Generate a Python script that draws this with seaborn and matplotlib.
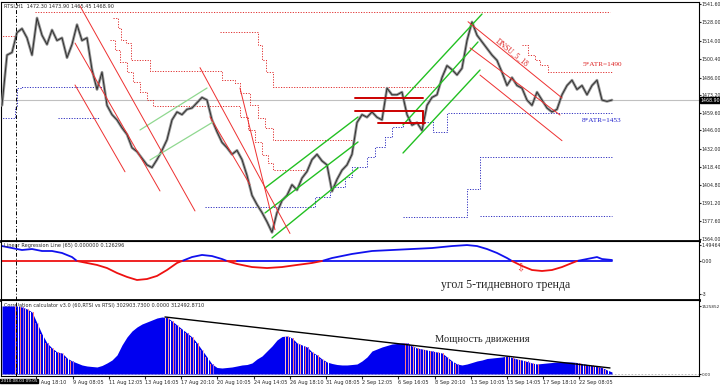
import numpy as np
import pandas as pd
import matplotlib
matplotlib.use("Agg")
import matplotlib.pyplot as plt
import seaborn as sns

sns.set_style("white")
plt.rcParams["font.family"] = ["DejaVu Sans"]

# RTSI H1 closes, sampled along the chart
close = [1465, 1503, 1505, 1520, 1523, 1516, 1503, 1531, 1518, 1511,
         1522, 1514, 1516, 1501, 1511, 1526, 1514, 1516, 1492, 1477,
         1490, 1465, 1458, 1454, 1448, 1443, 1433, 1430, 1425, 1420,
         1418, 1424, 1431, 1439, 1454, 1460, 1458, 1462, 1463, 1467,
         1471, 1469, 1454, 1445, 1437, 1433, 1428, 1431, 1424, 1412,
         1397, 1390, 1384, 1377, 1369, 1384, 1393, 1397, 1405, 1401,
         1410, 1415, 1424, 1428, 1423, 1420, 1400, 1409, 1416, 1420,
         1428, 1452, 1458, 1456, 1460, 1456, 1454, 1478, 1473, 1473,
         1475, 1458, 1450, 1452, 1446, 1465, 1471, 1473, 1486, 1495,
         1492, 1488, 1493, 1514, 1528, 1518, 1513, 1508, 1503, 1499,
         1490, 1480, 1486, 1480, 1478, 1469, 1465, 1475, 1469, 1463,
         1460, 1462, 1473, 1480, 1484, 1477, 1480, 1473, 1480, 1484,
         1469, 1468, 1469]
last_price = 1468.90

price_ticks = [1541.60, 1528.00, 1514.00, 1500.40, 1486.00, 1473.20, 1459.60,
               1446.00, 1432.00, 1418.40, 1404.80, 1391.20, 1377.60, 1364.00]

# ATR step bands (bar, price)
r0_x = [-0.4, 2.8]
r0_p = [1517.4, 1517.4]
r1_x = [6.6, 121.6]
r1_p = [1535.6, 1535.6]
r2_x = [22.2, 23.2, 23.8, 24.8, 25.8, 29.6, 44.0, 46.6, 47.6, 49.6, 51.2, 52.6, 54.2, 70.0]
r2_p = [1531.0, 1523.5, 1514.4, 1512.1, 1499.3, 1491.0, 1484.2, 1481.9, 1474.4,
        1465.3, 1455.5, 1447.9, 1438.8, 1438.8]
r3_x = [43.6, 50.6, 51.2, 52.0, 52.8, 54.2, 87.6]
r3_p = [1520.4, 1520.4, 1510.6, 1499.3, 1490.2, 1478.9, 1478.9]
r4_x = [21.6, 22.6, 23.6, 25.0, 26.2, 27.6, 29.0, 30.2, 47.6, 49.2, 50.6, 52.0, 53.2, 54.2, 61.0]
r4_p = [1514.4, 1506.8, 1497.8, 1490.2, 1482.7, 1475.1, 1469.1, 1464.5, 1456.2,
        1446.4, 1437.3, 1427.5, 1421.5, 1416.2, 1416.2]
r5_x = [104.0, 105.2, 106.6, 107.6, 109.2, 122.0]
r5_p = [1510.6, 1503.1, 1499.3, 1495.5, 1490.2, 1490.2]

b0_x = [-0.4, 2.6, 3.0, 4.0, 20.2]
b0_p = [1455.5, 1463.8, 1478.1, 1478.9, 1478.9]
b1_x = [11.2, 19.6]
b1_p = [1455.5, 1455.5]
b2_x = [40.6, 61.0, 62.6, 65.6, 68.6, 70.0, 73.0, 74.6, 76.6, 78.0, 80.2, 85.0, 86.2, 89.0, 93.6, 122.0]
b2_p = [1388.2, 1388.2, 1395.7, 1403.3, 1410.8, 1418.4, 1425.9, 1433.5, 1441.1,
        1448.6, 1452.4, 1452.4, 1444.8, 1458.9, 1459.2, 1459.2]
b3_x = [80.2, 87.6, 93.0, 95.6, 122.0]
b3_p = [1380.6, 1380.6, 1401.8, 1426.0, 1426.0]
b4_x = [95.6, 122.0]
b4_p = [1381.4, 1381.4]

# manual channels (bar0, bar1, price0, price1)
green_x = [[52.6, 71.2], [52.6, 71.2], [54.0, 71.2], [80.6, 96.0], [80.2, 95.2], [80.2, 95.6]]
green_p = [[1402.6, 1456.2], [1383.7, 1437.3], [1364.8, 1417.7],
           [1471.3, 1534.0], [1450.2, 1512.9], [1429.0, 1491.7]]
pale_x = [[27.6, 41.0], [29.6, 42.2]]
pale_p = [[1446.4, 1478.1], [1423.7, 1452.4]]
red_x = [[15.6, 38.6], [14.6, 31.6], [14.6, 24.6],
         [39.6, 57.6], [47.6, 54.6], [41.6, 49.6],
         [93.2, 112.0], [93.6, 111.6], [95.6, 112.0]]
red_p = [[1540.1, 1385.2], [1512.1, 1400.3], [1480.4, 1414.8],
         [1493.5, 1368.2], [1478.1, 1371.0], [1456.3, 1405.0],
         [1528.2, 1470.6], [1508.4, 1457.7], [1487.9, 1438.3]]
box_x = [[70.6, 84.2], [70.6, 84.2], [75.2, 84.6], [84.2, 84.2]]
box_p = [[1470.6, 1470.6], [1460.8, 1460.8], [1451.7, 1451.7], [1460.8, 1451.2]]

# Linear Regression Line (65)
lr_x = [0, 2, 4, 6, 8, 10, 12, 14, 15, 17, 19, 21, 23, 25, 27, 29, 31, 33, 35, 36,
        38, 40, 42, 44, 45, 47, 50, 53, 56, 59, 62, 64, 66, 70, 74, 78, 82, 86, 90,
        93, 95, 97, 99, 101, 102, 104, 106, 108, 110, 112, 114, 115, 117, 119, 120, 122]
lr_v = [1.36, 1.18, 1.00, 1.09, 0.91, 0.91, 0.73, 0.36, 0.00, -0.18, -0.36, -0.64,
        -1.09, -1.45, -1.73, -1.64, -1.36, -0.82, -0.18, 0.00, 0.36, 0.55, 0.45,
        0.18, 0.00, -0.27, -0.55, -0.64, -0.55, -0.36, -0.18, 0.00, 0.27, 0.64,
        0.91, 1.00, 1.09, 1.18, 1.36, 1.45, 1.36, 1.09, 0.73, 0.27, 0.00, -0.45,
        -0.82, -0.91, -0.82, -0.55, -0.18, 0.00, 0.18, 0.36, 0.18, 0.09]

# Correlation calculator, thousands
corr = [1462, 1462, 1462, 1462, 1440, 1398, 1333, 1097, 860, 667,
        559, 473, 452, 344, 280, 237, 194, 172, 161, 151,
        183, 237, 301, 409, 624, 796, 925, 1011, 1075, 1118,
        1161, 1204, 1226, 1215, 1140, 1054, 968, 882, 796, 667,
        516, 366, 215, 140, 129, 140, 151, 172, 194, 204,
        237, 323, 387, 495, 602, 731, 806, 817, 774, 667,
        624, 581, 473, 409, 323, 258, 226, 204, 194, 194,
        204, 215, 280, 366, 495, 538, 581, 613, 645, 656,
        667, 667, 602, 559, 538, 516, 495, 473, 452, 366,
        280, 215, 194, 215, 247, 280, 301, 333, 344, 355,
        366, 387, 355, 323, 301, 269, 237, 215, 226, 237,
        247, 258, 258, 258, 258, 247, 226, 204, 183, 161,
        140, 86, 43]
falling = [(3, 14), (33, 42), (57, 65), (81, 91), (101, 107), (115, 121)]
corr_trend_x = [32.6, 121.6]
corr_trend_v = [1226, 130]

time_pos = [6.8, 14.2, 21.4, 28.6, 35.8, 43.0, 50.4, 57.6, 64.8, 72.0, 79.2,
            86.6, 93.8, 101.0, 108.2, 115.4]
time_labels = ["5 Aug 18:10", "9 Aug 08:05", "11 Aug 12:05", "13 Aug 16:05",
               "17 Aug 20:10", "20 Aug 10:05", "24 Aug 14:05", "26 Aug 18:10",
               "31 Aug 08:05", "2 Sep 12:05", "6 Sep 16:05", "8 Sep 20:10",
               "13 Sep 10:05", "15 Sep 14:05", "17 Sep 18:10", "22 Sep 08:05"]

bars = np.arange(len(close))
df = pd.DataFrame({"bar": bars, "close": close, "corr": corr})

small = 3.6
fig = plt.figure(figsize=(7.2, 3.87), dpi=100)
W = 698 / 720
ax1 = fig.add_axes([1 / 720, 1 - 241 / 387, W, 239 / 387])
ax2 = fig.add_axes([1 / 720, 1 - 300 / 387, W, 59 / 387])
ax3 = fig.add_axes([1 / 720, 1 - 376 / 387, W, 76 / 387])
xlim = (-0.2, 139.4)

# ---- main price panel
ax1.axhline(last_price, color="#c0c0c0", lw=0.8, zorder=1)
for bx, bp in [(r0_x, r0_p), (r1_x, r1_p), (r2_x, r2_p), (r3_x, r3_p), (r4_x, r4_p), (r5_x, r5_p)]:
    ax1.plot(bx, bp, drawstyle="steps-post", color="#e03030", lw=0.7, ls=(0, (1.2, 1.5)), zorder=2)
for bx, bp in [(b0_x, b0_p), (b1_x, b1_p), (b2_x, b2_p), (b3_x, b3_p), (b4_x, b4_p)]:
    ax1.plot(bx, bp, drawstyle="steps-post", color="#3030c0", lw=0.7, ls=(0, (1.2, 1.5)), zorder=2)

sns.lineplot(data=df, x="bar", y="close", ax=ax1, color="#9a9a9a", lw=2.0, zorder=3)
sns.lineplot(data=df, x="bar", y="close", ax=ax1, color="#303030", lw=0.7, zorder=4)

for gx, gp in zip(green_x, green_p):
    ax1.plot(gx, gp, color="#22c022", lw=1.0, zorder=5)
for gx, gp in zip(pale_x, pale_p):
    ax1.plot(gx, gp, color="#90d890", lw=0.9, zorder=5)
for rx, rp in zip(red_x, red_p):
    ax1.plot(rx, rp, color="#ee3030", lw=0.7, zorder=5)
for rx, rp in zip(box_x, box_p):
    ax1.plot(rx, rp, color="#cc0000", lw=1.4, zorder=5)

ax1.text(102, 1505.3, "DNSU_5_18", rotation=-39, color="#dd2222", fontsize=5.5,
         family="Liberation Serif", ha="center", va="center", zorder=6)
ax1.text(116.2, 1495.5, "5*ATR=1490", color="#dd2222", fontsize=5.2,
         family="Liberation Serif", ha="left", va="center")
ax1.text(116.0, 1453.9, "8*ATR=1453", color="#2222cc", fontsize=5.2,
         family="Liberation Serif", ha="left", va="center")
ax1.text(0.004, 0.992, "RTSI,H1  1472.30 1473.90 1465.45 1468.90", transform=ax1.transAxes,
         fontsize=small, va="top", ha="left")
ax1.set_ylim(1362.5, 1543.1)
ax1.set_yticks(price_ticks)
ax1.set_yticklabels([f"{p:.2f}" for p in price_ticks])
ax1.text(1.002, last_price, f"{last_price:.2f}", transform=ax1.get_yaxis_transform(),
         fontsize=3.4, color="white", va="center", ha="left",
         bbox=dict(boxstyle="square,pad=0.12", fc="black", ec="black"), zorder=10)

# ---- linear regression panel
lr = np.array(lr_v)
ax2.plot([-0.2, 47.0], [0, 0], color="#ee1111", lw=1.3)
ax2.plot([47.0, 122.0], [0, 0], color="#1111ee", lw=1.3)
ax2.plot(lr_x, np.where(lr >= 0, lr, np.nan), color="#1111ee", lw=1.3)
ax2.plot(lr_x, np.where(lr <= 0, lr, np.nan), color="#ee1111", lw=1.3)
ax2.text(103.6, -0.7, "\u21e9", color="#ee2222", fontsize=7, ha="center", va="center")
ax2.text(87.8, -2.18, "угол 5-тидневного тренда", family="Liberation Serif",
         fontsize=8.5, ha="left", va="center")
ax2.text(0.004, 0.97, "Linear Regression Line (65) 0.000000 0.126296", transform=ax2.transAxes,
         fontsize=small, va="top", ha="left")
ax2.set_ylim(-3.55, 1.82)
ax2.set_yticks([1.49464, 0, -3])
ax2.set_yticklabels(["1.49464", "0.00", "-3"])

# ---- correlation calculator panel
ax3.text(0.004, 0.96, "Correlation calculator v3.0 (60,RTSI vs RTSI) 302903.7300 0.0000 312492.8710",
         transform=ax3.transAxes, fontsize=small, va="top", ha="left", zorder=1)
ax3.fill_between(bars, 0, corr, color="#0000f0", lw=0, zorder=2)
stripe_cols = ["#ff9a9a", "#ffffff", "#ff7a7a", "#a060e0", "#ffc0c0"]
k = 0
for a, b in falling:
    for i in range(a, b + 1):
        for off in (-0.25, 0.25):
            ax3.bar(i + off, corr[i], width=0.28, color=stripe_cols[k % len(stripe_cols)], lw=0, zorder=3)
            k += 1
ax3.plot(corr_trend_x, corr_trend_v, color="black", lw=1.0, zorder=4)
ax3.axhline(0, color="#b0b0b0", lw=0.6, ls=(0, (2, 2)), zorder=1)
ax3.text(86.6, 731, "Мощность движения", family="Liberation Serif", fontsize=7.6,
         ha="left", va="center", zorder=5)
ax3.text(0.004, 0.03, "© 2001-2010 MetaQuotes Software Corp.", transform=ax3.transAxes,
         fontsize=3.4, color="#8080a0", va="bottom", ha="left", zorder=1)
ax3.set_ylim(-43, 1591)
ax3.set_yticks([1460, 0])
ax3.set_yticklabels(["1525852", "0.00"])

for ax in (ax1, ax2, ax3):
    ax.set_xlim(*xlim)
    ax.yaxis.tick_right()
    ax.tick_params(axis="y", labelsize=3.4, length=1.5, pad=0.6, direction="out", right=True)
    ax.set_xlabel("")
    ax.set_ylabel("")
    for s in ax.spines.values():
        s.set_color("black")
        s.set_linewidth(0.8)
    ax.axvline(2.8, color="black", lw=0.7, ls=(0, (4, 2, 1, 2)), zorder=6)
ax3.tick_params(axis="y", labelsize=3.0)

for ax in (ax1, ax2):
    ax.set_xticks([])
ax1.spines["bottom"].set_linewidth(2.0)
ax2.spines["bottom"].set_linewidth(2.0)
ax3.set_xticks(time_pos)
ax3.set_xticklabels(time_labels, ha="left", fontsize=small)
ax3.tick_params(axis="x", length=2, pad=1, bottom=True)
fig.text(0.001, 1 - 381 / 387, "2010.08.03 09:05", fontsize=3.0, color="white", va="center",
         ha="left", bbox=dict(boxstyle="square,pad=0.1", fc="black", ec="black"), zorder=10)

fig.savefig("out.png", dpi=100, facecolor="white")
